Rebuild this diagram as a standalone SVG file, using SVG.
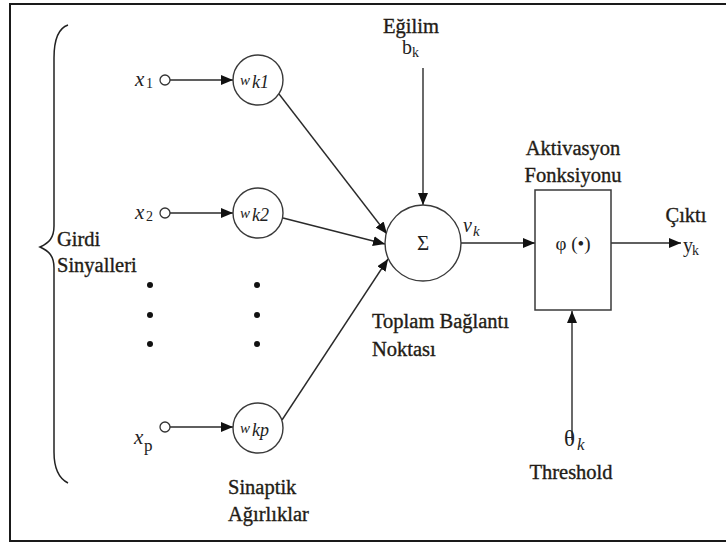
<svg xmlns="http://www.w3.org/2000/svg" width="726" height="543" viewBox="0 0 726 543" font-family="'Liberation Serif', 'Times New Roman', serif">
<defs>
<marker id="ah" markerWidth="12" markerHeight="10" refX="12" refY="5" orient="auto" markerUnits="userSpaceOnUse"><path d="M0,0 L12,5 L0,10 Z" fill="#111"/></marker>
<style>
text{font-family:'Liberation Serif','Times New Roman',serif}
.lbl{font-size:20.5px;fill:#231c16;stroke:#231c16;stroke-width:0.35}
.mth{fill:#222}
.it{font-style:italic}
.node{fill:#fff;stroke:#3a3a3a;stroke-width:1.4}
.con{stroke:#2a2a2a;stroke-width:1.4;fill:none;marker-end:url(#ah)}
.dot{fill:#111}
</style>
</defs>
<rect x="0" y="0" width="726" height="543" fill="#fff"/>
<rect x="10" y="4" width="730" height="537" fill="none" stroke="#1a1a1a" stroke-width="2"/>

<g id="brace">
<path d="M68,25 C59,28 54,40 54,58 L54,226 C54,238 49,243 40,247 C49,251 54,256 54,268 L54,452 C54,468 58,478 68,483" fill="none" stroke="#222" stroke-width="1.5"/>
<text class="lbl" x="57" y="246">Girdi</text>
<text class="lbl" x="57" y="272">Sinyalleri</text>
</g>

<g id="connectors">
<line class="con" x1="170" y1="80" x2="233" y2="80"/>
<line class="con" x1="170" y1="213" x2="233" y2="213"/>
<line class="con" x1="170" y1="427" x2="233" y2="427"/>
<line class="con" x1="279" y1="94" x2="387" y2="234"/>
<line class="con" x1="283" y1="218" x2="385" y2="244"/>
<line class="con" x1="282" y1="420" x2="388" y2="259"/>
<line class="con" x1="423" y1="68" x2="423" y2="205"/>
<line class="con" x1="461" y1="243" x2="535" y2="243"/>
<line class="con" x1="611" y1="243" x2="681" y2="243"/>
<line class="con" x1="572" y1="440" x2="572" y2="311"/>
</g>

<g id="x1">
<circle cx="165" cy="80" r="5" fill="#fff" stroke="#333" stroke-width="1.3"/>
<text class="mth it" x="135" y="86" font-size="21">x</text><text class="mth" x="146" y="88" font-size="14">1</text>
</g>
<g id="x2">
<circle cx="165" cy="213" r="5" fill="#fff" stroke="#333" stroke-width="1.3"/>
<text class="mth it" x="135" y="219" font-size="21">x</text><text class="mth" x="146" y="221" font-size="14">2</text>
</g>
<g id="xp">
<circle cx="165" cy="427" r="5" fill="#fff" stroke="#333" stroke-width="1.3"/>
<text class="mth it" x="134" y="444" font-size="21">x</text><text class="mth" x="144" y="451" font-size="17">p</text>
</g>

<g id="wk1">
<circle class="node" cx="258" cy="80" r="25"/>
<text class="mth it" x="240" y="85" font-size="15">w</text><text class="mth it" x="252" y="88" font-size="18">k1</text>
</g>
<g id="wk2">
<circle class="node" cx="258" cy="213" r="25"/>
<text class="mth it" x="240" y="218" font-size="15">w</text><text class="mth it" x="252" y="221" font-size="18">k2</text>
</g>
<g id="wkp">
<circle class="node" cx="258" cy="428" r="25"/>
<text class="mth it" x="240" y="433" font-size="15">w</text><text class="mth it" x="252" y="436" font-size="18">kp</text>
</g>

<g id="dots">
<circle class="dot" cx="150" cy="285" r="3"/><circle class="dot" cx="150" cy="315" r="3"/><circle class="dot" cx="150" cy="344" r="3"/>
<circle class="dot" cx="257" cy="285" r="3"/><circle class="dot" cx="257" cy="315" r="3"/><circle class="dot" cx="257" cy="344" r="3"/>
</g>

<g id="bias">
<text class="lbl" x="411" y="33" text-anchor="middle">Eğilim</text>
<text class="mth" x="402" y="54" font-size="20">b</text><text class="mth" x="412" y="57" font-size="14">k</text>
</g>

<g id="sum">
<circle class="node" cx="423" cy="243" r="38"/>
<text class="mth" x="423" y="250" font-size="21" text-anchor="middle">Σ</text>
<text class="lbl" x="372" y="328">Toplam Bağlantı</text>
<text class="lbl" x="372" y="356">Noktası</text>
</g>

<g id="vk">
<text class="mth it" x="463" y="232" font-size="20">v</text><text class="mth it" x="473" y="236" font-size="15">k</text>
</g>

<g id="activation">
<rect x="535" y="190" width="76" height="120" fill="#fff" stroke="#3a3a3a" stroke-width="1.5"/>
<text class="mth" x="573" y="250" font-size="19" text-anchor="middle">φ (•)</text>
<text class="lbl" x="573" y="155" text-anchor="middle">Aktivasyon</text>
<text class="lbl" x="573" y="182" text-anchor="middle">Fonksiyonu</text>
</g>

<g id="output">
<text class="lbl" x="686" y="222" text-anchor="middle">Çıktı</text>
<text class="mth" x="683" y="252" font-size="20">y</text><text class="mth" x="692" y="255" font-size="14">k</text>
</g>

<g id="threshold">
<text class="mth" x="564" y="446" font-size="23">θ</text><text class="mth it" x="577" y="450" font-size="17">k</text>
<text class="lbl" x="571" y="479" text-anchor="middle">Threshold</text>
</g>

<g id="weights-label">
<text class="lbl" x="228" y="494">Sinaptik</text>
<text class="lbl" x="228" y="521">Ağırlıklar</text>
</g>
</svg>
